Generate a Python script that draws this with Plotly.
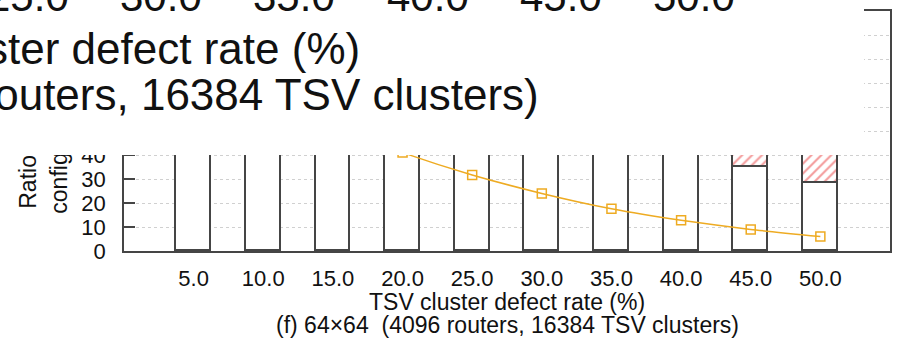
import plotly.graph_objects as go

# ---- data ----
rates = [5, 10, 15, 20, 25, 30, 35, 40, 45, 50]
rate_labels = ["5.0", "10.0", "15.0", "20.0", "25.0", "30.0", "35.0", "40.0", "45.0", "50.0"]
valid_part = [100.0, 99.5, 97.0, 92.0, 83.0, 72.0, 60.0, 47.0, 35.1, 28.4]
hatched_part = [0.0, 0.5, 3.0, 8.0, 17.0, 28.0, 40.0, 53.0, 64.9, 71.6]
line_values = [82.0, 65.0, 52.0, 41.0, 31.7, 24.0, 17.6, 12.8, 9.0, 6.0]
overlay_ticks = ["25.0", "30.0", "35.0", "40.0", "45.0", "50.0"]
overlay_tick_rates = [25, 30, 35, 40, 45, 50]

x_title = "TSV cluster defect rate (%)"
sub_title = "(f) 64\u00d764 \u00a0(4096 routers, 16384 TSV clusters)"
y_title_1 = "Ratio of valid"
y_title_2 = "configurations (%)"

# ---- geometry ----
W, H = 899, 342
L, R, T, B = 124, 7, 11, 91
PW, PH = W - L - R, H - T - B
FONT = "Liberation Sans, Arial, sans-serif"
XMAX = 55.0


def fx(px):
    return (px - L) / PW


def fy(py):
    return (H - B - py) / PH


def data_px(xv):
    return L + PW * xv / XMAX


edge = "#454545"

fig = go.Figure()
fig.add_trace(go.Bar(
    x=rates, y=valid_part, width=2.5,
    marker=dict(color="white", line=dict(color=edge, width=1.8)),
))
fig.add_trace(go.Bar(
    x=rates, y=hatched_part, width=2.5,
    marker=dict(color="white", line=dict(color=edge, width=1.8),
                pattern=dict(shape="/", fgcolor="#e83a3a", bgcolor="white",
                             size=7, solidity=0.3)),
))
fig.add_trace(go.Scatter(
    x=rates, y=line_values, mode="lines+markers",
    line=dict(color="#eeab22", width=1.5, shape="spline", smoothing=0.5),
    marker=dict(symbol="square-open", size=9, color="#eeab22",
                line=dict(color="#eeab22", width=1.5)),
))

ann = []
# y-axis title (two lines), drawn under the white overlay
ann.append(dict(text=y_title_1, textangle=-90, xref="paper", yref="paper",
                x=fx(27), xanchor="center", y=fy(210), yanchor="bottom",
                showarrow=False, borderpad=0, font=dict(family=FONT, size=23, color="#111")))
ann.append(dict(text=y_title_2, textangle=-90, xref="paper", yref="paper",
                x=fx(58), xanchor="center", y=fy(215), yanchor="bottom",
                showarrow=False, borderpad=0, font=dict(family=FONT, size=23, color="#111")))
# white overlay box
ann.append(dict(text=" ", xref="paper", yref="paper", x=fx(0), xanchor="left",
                y=fy(0), yanchor="top", width=864, height=155, bgcolor="white",
                borderpad=0, borderwidth=0, showarrow=False))
# enlarged text inside the overlay
for lab, rv in zip(overlay_ticks, overlay_tick_rates):
    cx = 1.912 * data_px(rv) - 876.7
    ann.append(dict(text=lab, xref="paper", yref="paper", x=fx(cx), xanchor="center",
                    y=fy(12 + 9), yanchor="bottom", showarrow=False, borderpad=0,
                    font=dict(family=FONT, size=42, color="#111")))
ann.append(dict(text=x_title, xref="paper", yref="paper", x=fx(362), xanchor="right",
                y=fy(65 + 9.3), yanchor="bottom", showarrow=False, borderpad=0,
                font=dict(family=FONT, size=44, color="#111")))
ann.append(dict(text=sub_title, xref="paper", yref="paper", x=fx(541), xanchor="right",
                y=fy(111 + 9.3), yanchor="bottom", showarrow=False, borderpad=0,
                font=dict(family=FONT, size=44, color="#111")))
# bottom titles
ann.append(dict(text=x_title, xref="paper", yref="paper", x=fx(508), xanchor="center",
                y=fy(310.7 + 4.9), yanchor="bottom", showarrow=False, borderpad=0,
                font=dict(family=FONT, size=23, color="#111")))
ann.append(dict(text=sub_title, xref="paper", yref="paper", x=fx(508), xanchor="center",
                y=fy(334 + 4.9), yanchor="bottom", showarrow=False, borderpad=0,
                font=dict(family=FONT, size=23, color="#111")))

fig.update_layout(
    width=W, height=H, margin=dict(l=L, r=R, t=T, b=B, pad=0),
    barmode="stack", bargap=0, showlegend=False,
    plot_bgcolor="white", paper_bgcolor="white",
    font=dict(family=FONT, size=22, color="#111"),
    annotations=ann,
    xaxis=dict(range=[0, XMAX], tickvals=rates, ticktext=rate_labels, ticks="",
               showline=True, linecolor=edge, linewidth=1.8, mirror=True,
               showgrid=False, zeroline=False, tickfont=dict(size=22),
               ticklabelstandoff=7),
    yaxis=dict(range=[0, 100], dtick=10, tick0=0, ticks="inside", ticklen=11,
               tickcolor=edge, tickwidth=1.5, showline=True, linecolor=edge,
               linewidth=1.8, mirror=True, showgrid=True, gridcolor="#d0d0d0",
               griddash="dot", gridwidth=1, zeroline=False, tickfont=dict(size=22),
               ticklabelstandoff=12),
)

fig.write_html("out.html")
